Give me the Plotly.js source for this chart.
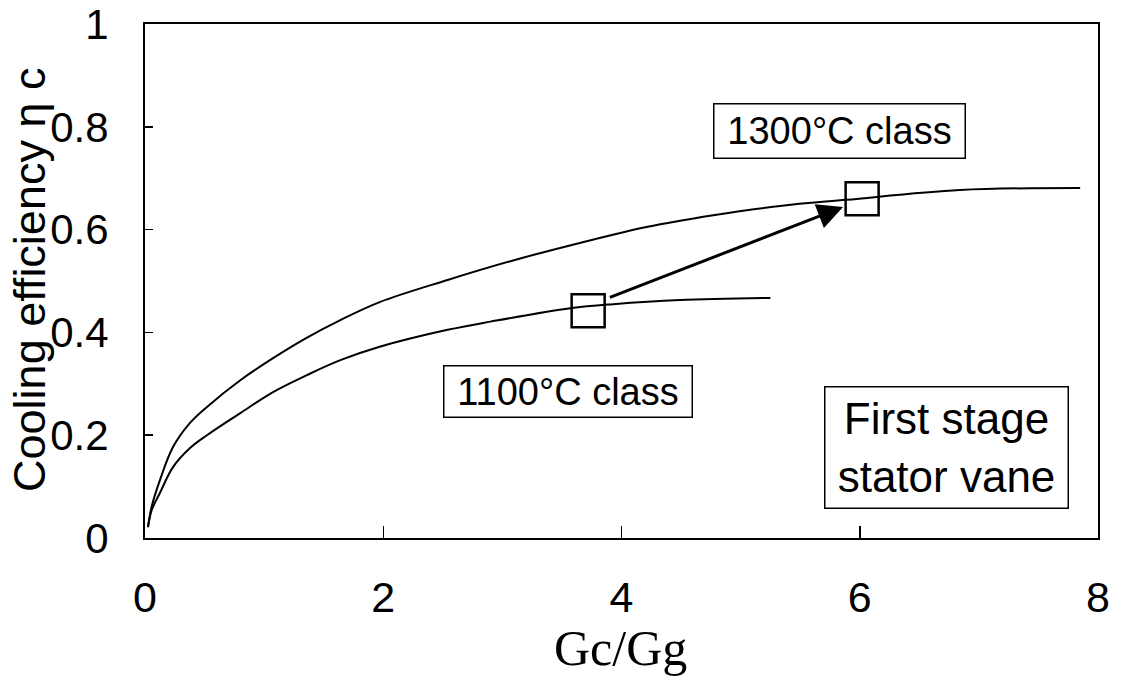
<!DOCTYPE html>
<html>
<head>
<meta charset="utf-8">
<script src="https://cdn.plot.ly/plotly-3.0.1.min.js"></script>
<style>
  html, body { margin: 0; padding: 0; background: #fff; }
  #chart { width: 1121px; height: 680px; }
</style>
</head>
<body>
<div id="chart"></div>
<script>
// Cooling efficiency curves vs. coolant flow ratio Gc/Gg
const ratio1300 = [0.025, 0.056, 0.126, 0.235, 0.378, 0.52, 0.80, 1.075, 1.36, 1.64, 1.97, 2.54, 3.09, 3.65, 4.21, 4.77, 5.33, 5.89, 6.84, 7.85];
const eff1300   = [0.021, 0.061, 0.113, 0.177, 0.224, 0.255, 0.307, 0.350, 0.390, 0.424, 0.459, 0.502, 0.540, 0.574, 0.605, 0.628, 0.646, 0.658, 0.677, 0.681];

const ratio1100 = [0.025, 0.056, 0.126, 0.235, 0.378, 0.52, 0.80, 1.075, 1.36, 1.64, 1.97, 2.54, 2.90, 3.57, 3.93, 4.49, 5.25];
const eff1100   = [0.021, 0.054, 0.088, 0.138, 0.175, 0.200, 0.243, 0.284, 0.317, 0.346, 0.372, 0.405, 0.421, 0.447, 0.455, 0.463, 0.467];

// Design points of each class
const pointRatio = [3.72, 6.02];
const pointEff   = [0.442, 0.660];

// Arrow from the 1100 point to the 1300 point
const arrowFrom = [3.89, 0.467];
const arrowTo   = [5.86, 0.644];

const xTicks = [0, 2, 4, 6, 8];
const yTicks = [0, 0.2, 0.4, 0.6, 0.8, 1];

const sans = 'Liberation Sans, Arial, sans-serif';

const traces = [
  { x: ratio1300, y: eff1300, mode: 'lines', line: { color: '#000', width: 2, shape: 'spline', smoothing: 1 }, hoverinfo: 'skip' },
  { x: ratio1100, y: eff1100, mode: 'lines', line: { color: '#000', width: 2, shape: 'spline', smoothing: 1 }, hoverinfo: 'skip' },
  { x: pointRatio, y: pointEff, mode: 'markers',
    marker: { symbol: 'square-open', size: 33, color: '#000', line: { width: 2.5, color: '#000' } } }
];

const boxStyle = { bordercolor: '#000', borderwidth: 1.5, bgcolor: '#fff', showarrow: false, xref: 'x', yref: 'y' };

const layout = {
  width: 1121, height: 680,
  margin: { l: 145, r: 23, t: 24, b: 142 },
  paper_bgcolor: '#fff', plot_bgcolor: '#fff',
  showlegend: false,
  font: { family: sans, color: '#000' },
  xaxis: {
    range: [0, 8], tickvals: xTicks, ticks: 'inside', ticklen: 12, tickwidth: 1.5, tickcolor: '#000',
    showgrid: false, zeroline: false, showline: true, linecolor: '#000', linewidth: 2, mirror: true,
    tickfont: { family: sans, size: 43, color: '#000' }, ticklabelstandoff: 20
  },
  yaxis: {
    range: [0, 1], tickvals: yTicks, ticks: 'inside', ticklen: 8, tickwidth: 1.5, tickcolor: '#000',
    showgrid: false, zeroline: false, showline: true, linecolor: '#000', linewidth: 2, mirror: true,
    tickfont: { family: sans, size: 42, color: '#000' }, ticklabelstandoff: 26
  },
  annotations: [
    Object.assign({ x: 5.83, y: 0.791, text: '1300°C class', font: { family: sans, size: 38 }, width: 246, height: 49, borderpad: 2 }, boxStyle),
    Object.assign({ x: 3.55, y: 0.286, text: '1100°C class', font: { family: sans, size: 38 }, width: 243, height: 46, borderpad: 2 }, boxStyle),
    Object.assign({ x: 6.73, y: 0.177, text: 'First stage<br>stator vane', font: { family: sans, size: 44 }, width: 238, height: 116, borderpad: 2 }, boxStyle),
    { x: arrowTo[0], y: arrowTo[1], ax: arrowFrom[0], ay: arrowFrom[1], xref: 'x', yref: 'y', axref: 'x', ayref: 'y',
      text: '', showarrow: true, arrowhead: 2, arrowsize: 1.7, arrowwidth: 3, arrowcolor: '#000', standoff: 0, startstandoff: 0 },
    { xref: 'paper', yref: 'paper', x: -0.1207, y: 0.502, xanchor: 'center', yanchor: 'middle', textangle: -90,
      text: 'Cooling efficiency η c', showarrow: false, font: { family: sans, size: 45, color: '#000' } },
    { xref: 'paper', yref: 'paper', x: 0.499, y: -0.158, xanchor: 'center', yanchor: 'top', borderpad: 0,
      text: 'Gc/Gg', showarrow: false, font: { family: 'Liberation Serif, serif', size: 50, color: '#000' } }
  ]
};

Plotly.newPlot('chart', traces, layout, { staticPlot: true, displayModeBar: false });
</script>
</body>
</html>
